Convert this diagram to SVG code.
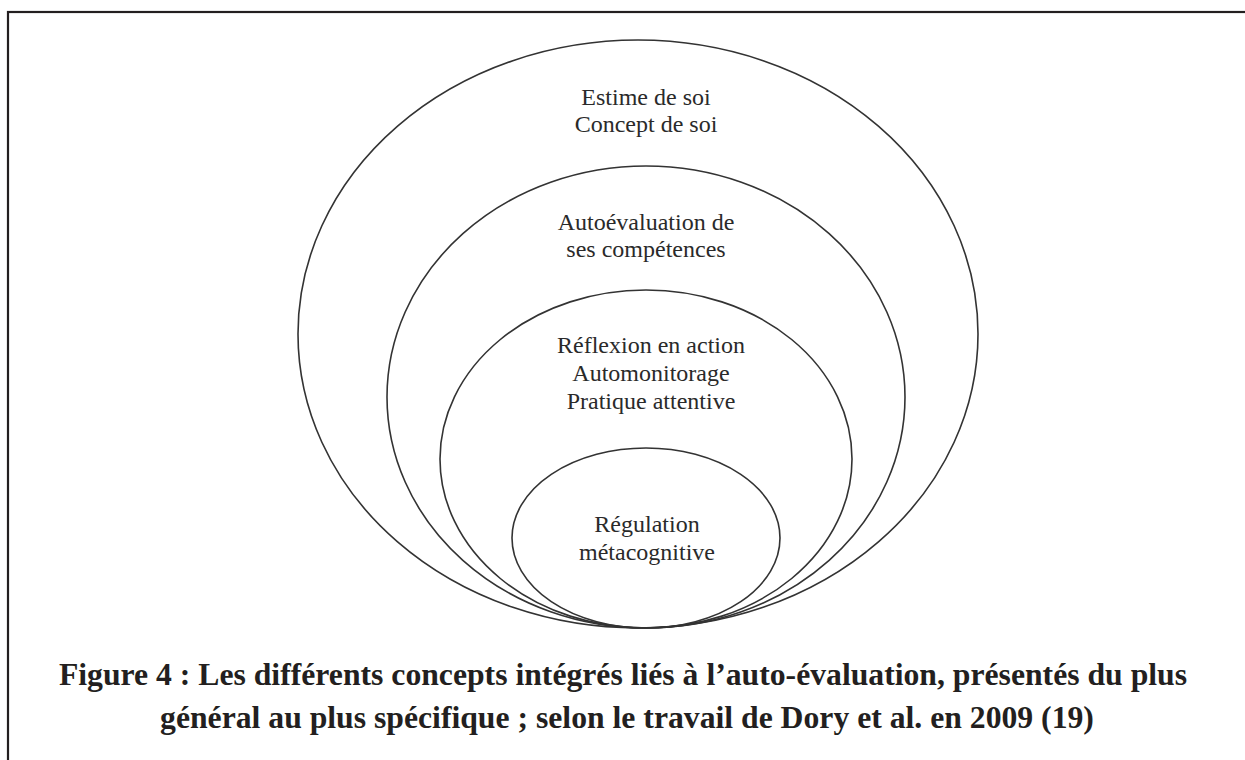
<svg xmlns="http://www.w3.org/2000/svg" width="1245" height="760" viewBox="0 0 1245 760">
<style>
.ring{fill:none;stroke:#333;stroke-width:1.6}
.lbl{font-family:"Liberation Serif","Times New Roman",serif;font-size:24px;fill:#2a2a2a;text-anchor:middle}
.cap{font-family:"Liberation Serif","Times New Roman",serif;font-size:31.7px;font-weight:bold;fill:#231f20;text-anchor:middle}
</style>
<rect x="0" y="0" width="1245" height="760" fill="#fff"/>
<rect x="8" y="12" width="1300" height="800" fill="none" stroke="#231f20" stroke-width="2.2"/>
<g id="n1"><ellipse class="ring" cx="638" cy="334" rx="340" ry="294"/>
<text class="lbl" x="646" y="105">Estime de soi</text><text class="lbl" x="646" y="132">Concept de soi</text></g>
<g id="n2"><ellipse class="ring" cx="646" cy="397" rx="259" ry="231"/>
<text class="lbl" x="646" y="230">Autoévaluation de</text><text class="lbl" x="646" y="257">ses compétences</text></g>
<g id="n3"><ellipse class="ring" cx="646" cy="459" rx="206" ry="169"/>
<text class="lbl" x="651" y="353">Réflexion en action</text><text class="lbl" x="651" y="381">Automonitorage</text><text class="lbl" x="651" y="409">Pratique attentive</text></g>
<g id="n4"><ellipse class="ring" cx="646" cy="538" rx="134" ry="90"/>
<text class="lbl" x="647" y="532">Régulation</text><text class="lbl" x="647" y="560">métacognitive</text></g>
<g id="connectors"></g>
<g id="caption">
<text class="cap" x="623" y="685">Figure 4 : Les différents concepts intégrés liés à l’auto-évaluation, présentés du plus</text>
<text class="cap" x="627" y="728">général au plus spécifique ; selon le travail de Dory et al. en 2009 (19)</text>
</g>
</svg>
